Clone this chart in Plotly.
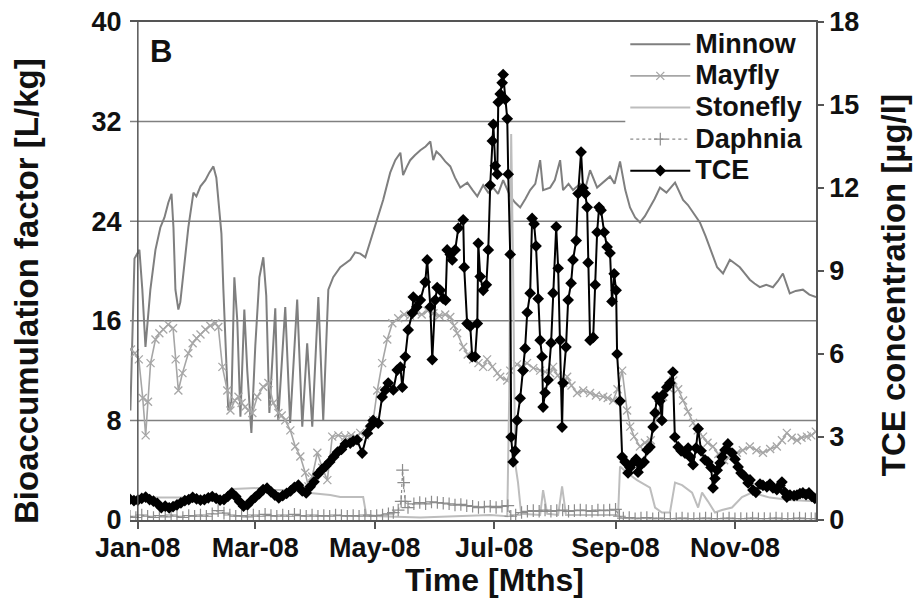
import pandas as pd
import plotly.graph_objects as go

# ---------------- data (day offset from 1 Jan 2008, value) ----------------
minnow = [(-3.8, 8.8), (-1.7, 21.0), (0.8, 21.7), (2.3, 18.5), (3.9, 13.9), (6.4, 18.5), (9.0, 21.7),
          (11.5, 23.5), (13.6, 24.3), (15.6, 25.5), (17.2, 26.2), (18.2, 23.5), (19.2, 18.5), (20.7, 16.9),
          (21.7, 17.5), (23.8, 20.5), (25.8, 23.5), (28.4, 26.3), (29.9, 26.0), (32.0, 26.8), (34.5, 27.3),
          (36.5, 27.9), (38.6, 28.4), (40.1, 27.5), (41.1, 25.7), (42.7, 23.0), (43.7, 18.5), (45.2, 12.0),
          (46.2, 8.8), (47.8, 9.5), (49.3, 19.5), (50.8, 16.0), (52.4, 8.3), (54.4, 16.9), (55.9, 12.0),
          (58.0, 7.0), (60.0, 14.0), (62.1, 19.5), (64.1, 21.1), (65.6, 18.0), (67.2, 8.6), (70.2, 17.0),
          (71.7, 8.0), (75.3, 17.1), (77.8, 7.8), (81.4, 17.7), (84.0, 7.5), (86.5, 14.2), (89.1, 7.5),
          (92.2, 17.9), (94.7, 8.0), (97.3, 18.5), (99.8, 19.5), (103.4, 20.3), (106, 20.6), (108.5, 20.9),
          (111, 21.5), (113.6, 21.4), (116.2, 21.1), (118, 22.0), (120.2, 23.0), (122.8, 24.3), (125.3, 25.7),
          (128.9, 27.9), (131.5, 28.9), (134.1, 29.5), (135.5, 27.7), (137.5, 28.4), (139.1, 28.9),
          (141.5, 29.3), (144.3, 29.7), (147, 30.0), (149.4, 30.4), (150.9, 28.9), (152.5, 29.6),
          (154.5, 29.3), (157, 28.8), (159.6, 28.4), (162, 27.5), (164.7, 26.7), (168.3, 27.1), (171, 26.5),
          (173.4, 26.0), (176.4, 26.9), (179, 26.3), (181.5, 26.7), (184, 26.2), (186.6, 27.3), (190.2, 26.0),
          (192.7, 25.5), (195.3, 25.1), (198, 25.8), (200.4, 26.5), (203, 27.0), (205.5, 28.9), (207.0, 26.5),
          (210.6, 26.7), (213, 27.3), (215.7, 28.9), (217.2, 26.5), (220, 27.0), (222.3, 26.5), (225.9, 27.0),
          (228.5, 26.6), (231.0, 28.1), (234.6, 26.7), (238, 27.2), (241.2, 27.6), (243.5, 27.0),
          (246.3, 28.8), (249, 26.5), (251.4, 25.1), (254, 24.3), (256.5, 23.9), (259, 24.4), (261.6, 25.1),
          (264, 25.8), (266.7, 26.7), (270, 26.3), (274.4, 27.1), (276.5, 26.4), (278.5, 25.7), (281, 25.3),
          (283.6, 24.7), (287.1, 23.9), (290, 22.8), (292.2, 21.9), (295.9, 20.3), (298.9, 19.8),
          (302.4, 20.9), (305, 20.6), (307.5, 20.3), (310, 19.8), (312.6, 19.3), (315, 19.0), (317.7, 18.7),
          (321, 18.9), (324.4, 18.7), (327, 19.2), (329.5, 19.8), (333.0, 18.2), (336, 18.4), (339.7, 18.5),
          (343, 18.1), (346.4, 17.9)]

mayfly = [(-3.5, 13.7), (-1.5, 13.4), (0.5, 12.9), (2.5, 9.8), (4, 6.8), (5.2, 9.5), (6.5, 12.6), (9, 14.5),
          (11, 15.0), (13, 15.3), (15.5, 15.7), (18, 15.4), (19.3, 12.9), (20.7, 10.4), (22.8, 11.8),
          (25.8, 13.4), (28, 14.2), (30, 14.6), (32, 14.9), (34.5, 15.3), (37, 15.6), (39.6, 15.8),
          (41.1, 15.5), (43.2, 12.3), (45.7, 10.4), (47.3, 8.8), (49.5, 9.6), (51.4, 9.9), (53, 9.4),
          (54.9, 9.1), (56.5, 8.8), (58.5, 8.6), (61, 9.9), (64, 10.7), (66.7, 11.0), (69.2, 9.4),
          (71.8, 8.6), (73.5, 8.4), (75.3, 8.0), (77.9, 7.2), (80.4, 5.9), (83, 5.1), (85.5, 3.8),
          (87.1, 2.7), (89.1, 3.5), (91.7, 5.4), (94.2, 4.2), (96.8, 3.2), (99.3, 6.7), (102.4, 6.8),
          (105.9, 6.7), (109, 6.8), (111.5, 6.6), (113.6, 7.0), (116, 6.8), (118, 7.2), (120.2, 8.0),
          (122.3, 10.4), (124.8, 12.6), (127.4, 14.5), (130, 15.8), (133, 16.2), (136, 16.5), (139, 16.4),
          (142, 16.7), (145, 16.5), (148, 16.8), (151, 16.6), (154, 16.4), (157, 16.5), (159.6, 16.3),
          (161.5, 15.6), (163.1, 15.0), (166.2, 13.9), (168.5, 13.3), (171.3, 12.9), (174, 12.6),
          (176.4, 12.3), (178.4, 12.9), (181, 12.3), (183.6, 11.8), (185.1, 11.5), (188.7, 11.2),
          (190.2, 12.0), (193.7, 12.5), (196, 12.3), (198.8, 12.6), (202, 12.2), (205.5, 12.0), (208, 11.9),
          (210.6, 11.8), (212.1, 12.3), (214.5, 11.6), (217.3, 11.0), (219.3, 11.5), (221.5, 10.8),
          (224.4, 10.2), (227.5, 10.4), (231, 10.2), (234, 10.0), (237.7, 9.9), (240, 9.8), (242.8, 9.6),
          (245, 10.5), (247.4, 12.0), (249.9, 8.8), (251.5, 7.5), (253.5, 6.7), (256.5, 5.9), (259, 6.2),
          (262, 6.4), (265.2, 8.3), (268.3, 9.9), (271, 10.6), (273.5, 11.2), (276, 10.5), (278.5, 9.6),
          (281, 8.7), (283.6, 7.8), (286, 7.2), (288.7, 6.7), (291, 6.2), (293.8, 5.9), (296.5, 5.3),
          (299.5, 4.8), (302.5, 5.1), (306, 5.4), (309, 5.6), (312.6, 5.9), (316, 5.6), (319.3, 5.4),
          (323, 5.7), (326.4, 5.9), (329, 6.4), (331.5, 7.0), (334, 6.6), (336.7, 6.4), (339, 6.6),
          (341.8, 6.7), (344, 6.8), (346.3, 7.1)]

stonefly = [(-3.8, 1.8), (47.3, 1.8), (48.8, 2.5), (66.7, 2.6), (69.2, 2.4), (83.0, 2.4), (85.5, 2.2),
            (98.3, 2.0), (103.4, 1.85), (115.1, 1.85), (116.7, 0.4), (123.9, 0.3), (144.3, 0.2),
            (164.7, 0.3), (180.0, 0.4), (188.7, 0.3), (189.7, 10.0), (190.7, 31.0), (191.7, 20.0),
            (192.7, 4.6), (194.2, 3.0), (195.8, 0.5), (205.5, 0.4), (207.0, 2.4), (209.1, 0.5),
            (214.7, 0.4), (216.7, 2.7), (218.7, 0.4), (236.1, 0.4), (245.3, 0.4), (246.3, 4.3),
            (249.9, 3.8), (255.0, 3.2), (261.6, 2.6), (264.2, 1.0), (267.7, 0.6), (271.8, 0.6),
            (274.4, 3.0), (278.0, 2.8), (283.1, 2.2), (286.2, 1.0), (288.2, 2.2), (291.2, 1.5),
            (294.8, 0.6), (298.4, 0.8), (303.5, 1.0), (308.6, 1.85), (313.7, 2.2), (322.8, 1.8),
            (333.0, 1.6), (346.4, 1.5)]

daphnia = [(-4, 0.3), (-1, 0.2), (2, 0.4), (5, 0.3), (8, 0.2), (11, 0.35), (14, 0.25), (17, 0.4), (20, 0.3),
           (23, 0.2), (26, 0.35), (29, 0.3), (32, 0.4), (35, 0.3), (38, 0.5), (41, 0.75), (44, 0.55),
           (47, 0.4), (50, 0.3), (53, 0.35), (56, 0.25), (59, 0.4), (62, 0.3), (65, 0.45), (68, 0.35),
           (71, 0.3), (74, 0.4), (77, 0.3), (80, 0.45), (83, 0.35), (86, 0.3), (89, 0.4), (92, 0.3),
           (95, 0.35), (98, 0.3), (101, 0.4), (104, 0.35), (107, 0.3), (110, 0.35), (113, 0.3), (116, 0.4),
           (119, 0.3), (122, 0.35), (125, 0.4), (128, 0.5), (130.5, 0.6), (133, 0.8), (134.5, 1.5),
           (135.2, 4.0), (135.8, 3.0), (136.5, 1.5), (138, 1.0), (141, 1.3), (144, 1.4), (147, 1.3),
           (150, 1.45), (153, 1.4), (156, 1.35), (159, 1.3), (162, 1.2), (165, 1.25), (168, 1.15),
           (171, 1.1), (174, 1.0), (177, 1.05), (180, 1.1), (183, 1.0), (186, 1.1), (189, 1.15),
           (190.5, 0.3), (193, 0.4), (196, 0.6), (199, 0.7), (202, 0.75), (205, 0.7), (208, 0.8),
           (211, 0.7), (214, 0.75), (217, 0.8), (220, 0.7), (223, 0.75), (226, 0.8), (229, 0.75),
           (232, 0.7), (235, 0.8), (238, 0.75), (241, 0.8), (244, 0.85), (246, 0.3), (248, 0.15),
           (251, 0.2), (254, 0.1), (257, 0.15), (260, 0.2), (263, 0.1), (266, 0.15), (269, 0.1),
           (272, 0.12), (275, 0.1), (278, 0.15), (281, 0.1), (284, 0.12), (287, 0.1), (290, 0.15),
           (293, 0.1), (296, 0.12), (299, 0.1), (302, 0.15), (305, 0.1), (308, 0.12), (311, 0.1),
           (314, 0.15), (317, 0.1), (320, 0.12), (323, 0.1), (326, 0.15), (329, 0.1), (332, 0.12),
           (335, 0.1), (338, 0.15), (341, 0.1), (344, 0.12), (346, 0.1)]

tce = [(-4, 0.75), (-2, 0.70), (0, 0.72), (2, 0.78), (4, 0.83), (6, 0.74), (8, 0.68), (10, 0.60), (12, 0.45),
       (14, 0.50), (16, 0.44), (18, 0.48), (20, 0.55), (22, 0.62), (24, 0.70), (26, 0.74), (28, 0.82),
       (30, 0.76), (32, 0.72), (34, 0.74), (36, 0.80), (38, 0.85), (40, 0.78), (42, 0.72), (44, 0.74),
       (46, 0.85), (48, 0.98), (50, 0.85), (52, 0.66), (54, 0.50), (56, 0.55), (58, 0.70), (60, 0.83),
       (62, 0.95), (64, 1.10), (66, 1.15), (68, 1.02), (70, 0.90), (72, 0.80), (74, 0.88), (76, 0.96),
       (78, 1.05), (80, 1.18), (82, 1.26), (84, 1.05), (86, 0.98), (88, 1.20), (90, 1.38), (92, 1.66),
       (94, 1.82), (96, 1.95), (98, 2.10), (100, 2.28), (102, 2.45), (104, 2.55), (106, 2.75), (108.5, 2.78),
       (110, 2.85), (112, 2.9), (114.6, 2.42), (117.2, 3.14), (119, 3.4), (120.2, 3.6), (122.8, 3.5),
       (124.8, 4.45), (126.5, 4.7), (127.9, 4.95), (130.5, 4.7), (132.5, 5.42), (134.1, 5.53), (135.1, 4.8),
       (136.6, 5.9), (138.1, 6.87), (140.2, 7.48), (140.7, 8.06), (142.5, 7.7), (144.3, 7.95), (146.8, 8.6),
       (147.8, 9.4), (149.4, 7.7), (150.4, 5.8), (151.9, 7.95), (152.9, 8.4), (154.5, 8.3), (156, 8.0),
       (157.2, 7.95), (158.0, 9.76), (159.6, 9.6), (160.6, 9.4), (162.1, 9.76), (163.7, 10.55), (166.2, 10.85),
       (166.7, 9.14), (168.2, 7.1), (169.8, 7.0), (170.8, 5.9), (172.3, 5.9), (173.4, 7.1), (173.9, 10.0),
       (174.9, 8.8), (176.4, 8.3), (178.0, 8.5), (179.0, 9.76), (180.0, 12.1), (181.1, 13.7), (181.6, 14.3),
       (182.6, 12.8), (183.6, 12.5), (184.1, 15.1), (185.1, 15.4), (186.1, 15.8), (186.6, 16.1), (187.7, 15.2),
       (188.7, 14.5), (189.2, 12.5), (190.2, 9.6), (190.7, 3.0), (191.7, 2.1), (192.7, 2.5), (193.7, 3.6),
       (195.3, 4.4), (196.8, 5.4), (197.8, 6.2), (198.9, 7.5), (200.4, 8.2), (201.4, 10.9), (202.4, 10.7),
       (203.4, 9.9), (204.5, 8.0), (205.5, 6.5), (206.5, 5.9), (207.0, 4.08), (208.0, 4.6), (209.6, 5.06),
       (211.1, 6.4), (212.1, 8.2), (213.7, 10.6), (214.7, 9.1), (215.7, 6.5), (216.7, 3.36), (217.2, 4.95),
       (218.7, 6.25), (219.8, 7.95), (221.3, 8.56), (222.3, 9.4), (223.9, 10.1), (224.9, 11.8), (226.4, 13.3),
       (227.4, 12.0), (228.5, 11.8), (229.5, 11.3), (230.0, 9.3), (231.0, 6.5), (232.6, 6.6), (233.6, 8.5),
       (234.6, 10.4), (235.6, 11.3), (236.6, 11.2), (238.2, 10.4), (239.7, 9.87), (241.2, 9.65), (242.2, 7.9),
       (243.3, 8.9), (244.3, 8.3), (244.8, 6.0), (246.3, 4.3), (247.4, 2.28), (248.9, 2.1), (250.4, 1.7),
       (251.4, 1.9), (252.9, 2.06), (254.5, 2.2), (255.5, 1.73), (257.1, 2.0), (258.6, 2.1), (260.1, 2.53),
       (261.6, 2.64), (263.2, 3.36), (264.2, 3.87), (265.2, 4.45), (266.7, 4.3), (267.7, 3.6), (268.2, 4.52),
       (270.2, 4.8), (271.8, 4.95), (273.3, 5.35), (274.3, 3.0), (276.0, 2.64), (277.5, 2.5), (279.5, 2.42),
       (281.1, 2.6), (282.1, 2.28), (283.6, 2.0), (285.1, 2.6), (286.2, 3.3), (287.7, 2.5), (289.7, 2.17),
       (291.2, 2.1), (292.8, 1.9), (293.8, 1.16), (294.8, 1.5), (295.9, 1.8), (297.4, 2.06), (298.4, 2.28),
       (299.9, 2.53), (301.4, 2.75), (303.5, 2.42), (305.0, 2.2), (306.6, 1.92), (308.1, 1.7), (309.6, 1.6),
       (311.7, 1.34), (312.7, 1.45), (314.2, 1.08), (315.7, 1.0), (317.8, 1.3), (319.3, 1.25), (321.3, 1.2),
       (322.9, 1.3), (324.4, 1.16), (326.4, 1.1), (328.0, 1.25), (329.0, 1.37), (330.5, 1.0), (331.5, 0.83),
       (333.1, 0.9), (335.2, 0.88), (336.7, 0.9), (338.2, 0.95), (339.7, 0.98), (341.3, 0.92), (342.8, 0.98),
       (344.3, 0.85), (345.8, 0.78)]

series_names = ["Minnow", "Mayfly", "Stonefly", "Daphnia", "TCE"]
left_ticks = [0, 8, 16, 24, 32, 40]
right_ticks = [0, 3, 6, 9, 12, 15, 18]

BASE = pd.Timestamp("2008-01-01")


def unpack(pairs):
    days = [p[0] for p in pairs]
    vals = [p[1] for p in pairs]
    return BASE + pd.to_timedelta(days, unit="D"), vals


def legend_label(name):
    return '<span style="font-size:27px">' + name + '</span>'


FONT = "Liberation Sans, Arial, Helvetica, sans-serif"
TXT = "#111111"
AX = "#555555"
GRID = "#808080"
LEGEND_LEFT = 0.722   # legend box left edge (paper units); the 32 gridline stops there

fig = go.Figure()

x, y = unpack(minnow)
fig.add_trace(go.Scatter(x=x, y=y, name=legend_label(series_names[0]), mode="lines",
                         line=dict(color="#7f7f7f", width=2)))
x, y = unpack(mayfly)
fig.add_trace(go.Scatter(x=x, y=y, name=legend_label(series_names[1]), mode="lines+markers",
                         line=dict(color="#a6a6a6", width=1.6),
                         marker=dict(symbol="x-thin", size=8, color="#a6a6a6",
                                     line=dict(color="#a6a6a6", width=1.3))))
x, y = unpack(stonefly)
fig.add_trace(go.Scatter(x=x, y=y, name=legend_label(series_names[2]), mode="lines",
                         line=dict(color="#bdbdbd", width=2)))
x, y = unpack(daphnia)
fig.add_trace(go.Scatter(x=x, y=y, name=legend_label(series_names[3]), mode="lines+markers",
                         line=dict(color="#8c8c8c", width=1.2, dash="dot"),
                         marker=dict(symbol="cross-thin", size=9, color="#8c8c8c",
                                     line=dict(color="#8c8c8c", width=1.2))))
x, y = unpack(tce)
fig.add_trace(go.Scatter(x=x, y=y, name=legend_label(series_names[4]), mode="lines+markers", yaxis="y2",
                         line=dict(color="black", width=2),
                         marker=dict(symbol="diamond", size=9, color="black")))

# horizontal gridlines (the 32 line stops at the legend box, as in the original)
grid_shapes = []
for v in left_ticks[1:-1]:
    grid_shapes.append(dict(type="line", xref="paper", yref="y", x0=0,
                            x1=LEGEND_LEFT if v == 32 else 1, y0=v, y1=v,
                            line=dict(color=GRID, width=1.5), layer="below"))

# page body adds an 8px offset; the figure is sized so that the plot area lands where the reference has it
fig.update_layout(
    width=915, height=595,
    margin=dict(l=122, r=107, t=14, b=83, autoexpand=False),
    paper_bgcolor="white", plot_bgcolor="white",
    font=dict(family=FONT, size=27, color=TXT, weight="bold"),
    showlegend=True,
    legend=dict(x=LEGEND_LEFT, y=0.997, xanchor="left", yanchor="top",
                bgcolor="rgba(255,255,255,0)", borderwidth=0, itemwidth=60,
                font=dict(family=FONT, size=22, color=TXT, weight="bold"),
                tracegroupgap=0),
    xaxis=dict(type="date", automargin=False,
               range=[BASE + pd.Timedelta(days=-4), BASE + pd.Timedelta(days=346.4)],
               tick0="2008-01-01", dtick="M2", tickformat="%b-%y",
               ticks="outside", ticklen=7, tickcolor=AX, tickwidth=1.5,
               ticklabelstandoff=-4, ticklabeloverflow="allow",
               showline=True, linecolor=AX, linewidth=1.5, mirror=True,
               showgrid=False, zeroline=False,
               tickfont=dict(family=FONT, size=27, color=TXT, weight="bold")),
    yaxis=dict(range=[0, 40], tickvals=left_ticks, automargin=False,
               showgrid=False, showline=False, zeroline=False,
               ticks="outside", ticklen=2, tickcolor="rgba(0,0,0,0)",
               ticklabeloverflow="allow",
               tickfont=dict(family=FONT, size=27, color=TXT, weight="bold")),
    yaxis2=dict(range=[0, 18], tickvals=right_ticks, overlaying="y", side="right", automargin=False,
                showgrid=False, zeroline=False,
                showline=True, linecolor=AX, linewidth=1.5,
                ticks="outside", ticklen=6, tickcolor=AX, tickwidth=1.5,
                ticklabeloverflow="allow",
                tickfont=dict(family=FONT, size=27, color=TXT, weight="bold")),
    shapes=grid_shapes + [
        dict(type="line", xref="x", yref="paper", x0=BASE, x1=BASE, y0=0, y1=1,
             line=dict(color=AX, width=1.5), layer="above")],
    annotations=[
        dict(text="B", xref="paper", yref="paper", x=0.045, y=0.94, showarrow=False,
             xanchor="center", yanchor="middle",
             font=dict(family=FONT, size=31, color=TXT, weight="bold")),
        dict(text="Time [Mths]", xref="paper", yref="paper", x=0.532, y=-0.12, showarrow=False,
             xanchor="center", yanchor="middle",
             font=dict(family=FONT, size=32, color=TXT, weight="bold")),
        dict(text="Bioaccumulation factor [L/kg]", xref="paper", yref="paper", x=-0.150, y=0.46,
             showarrow=False, textangle=-90, xanchor="center", yanchor="middle",
             font=dict(family=FONT, size=33, color=TXT, weight="bold")),
        dict(text="TCE concentration [µg/l]", xref="paper", yref="paper", x=1.114, y=0.472,
             showarrow=False, textangle=-90, xanchor="center", yanchor="middle",
             font=dict(family=FONT, size=33, color=TXT, weight="bold")),
    ],
)

fig.write_html("out.html")
